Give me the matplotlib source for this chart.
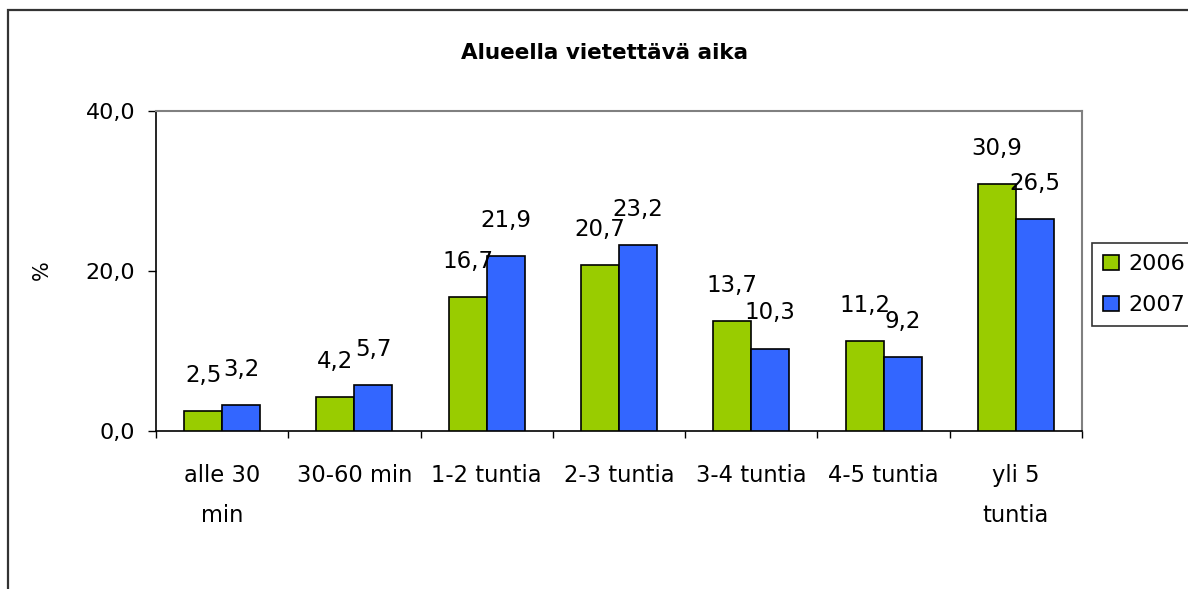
import matplotlib
matplotlib.use("Agg")
import matplotlib.pyplot as plt
from matplotlib.patches import Rectangle
import numpy as np

categories = ["alle 30\nmin", "30-60 min", "1-2 tuntia", "2-3 tuntia", "3-4 tuntia", "4-5 tuntia", "yli 5\ntuntia"]
series_names = ["2006", "2007"]
values_2006 = [2.5, 4.2, 16.7, 20.7, 13.7, 11.2, 30.9]
values_2007 = [3.2, 5.7, 21.9, 23.2, 10.3, 9.2, 26.5]
y_ticks = [0, 20, 40]
title = "Alueella vietettävä aika"
y_label = "%"

colors = ["#99CC00", "#3366FF"]

plt.rcParams['font.family'] = ['DejaVu Sans']

W, H = 1188, 589
fig = plt.figure(figsize=(W / 100, H / 100), dpi=100)
ax = fig.add_axes([156 / W, 1 - 431 / H, 926 / W, 320 / H])

x = np.arange(len(categories))
bw = 0.287
for k, (vals, name) in enumerate(zip([values_2006, values_2007], series_names)):
    offs = (k - 0.5) * bw
    ax.bar(x + offs, vals, width=bw, color=colors[k], edgecolor="black",
           linewidth=1.2, label=name, zorder=3)
    for xi, v in zip(x + offs, vals):
        ax.annotate(f"{v:.1f}".replace(".", ","), (xi, v), xytext=(0, 21),
                    textcoords="offset points", ha="center", va="baseline",
                    fontsize=16.5, zorder=5)

ax.set_xlim(-0.5, len(categories) - 0.5)
ax.set_ylim(0, 40)
ax.set_yticks(y_ticks)
ax.set_yticklabels([f"{t:.1f}".replace(".", ",") for t in y_ticks], fontsize=16)
ax.tick_params(axis="y", direction="out", length=5.8, width=1, pad=9, color="black")

ax.set_xticks(x)
ax.set_xticklabels(categories, fontsize=16.3, linespacing=1.95)
ax.tick_params(axis="x", which="major", length=0, pad=24)
ax.set_xticks(np.arange(-0.5, len(categories)), minor=True)
ax.tick_params(axis="x", which="minor", direction="out", length=5, width=1, color="black")

for s in ["top", "right"]:
    ax.spines[s].set_color("#808080")
    ax.spines[s].set_linewidth(1.5)
for s in ["left", "bottom"]:
    ax.spines[s].set_color("black")
    ax.spines[s].set_linewidth(1.2)

fig.text(605 / W, 1 - 53 / H, title, ha="center", va="center", fontsize=15.5, fontweight="bold")
fig.text(42 / W, 1 - 270 / H, y_label, ha="center", va="center", rotation=90, fontsize=15)

leg = fig.legend(loc="upper left", bbox_to_anchor=(1092 / W, 1 - 243 / H),
                 bbox_transform=fig.transFigure, fontsize=16, frameon=True,
                 fancybox=False, handlelength=0.7, handleheight=0.7,
                 handletextpad=0.45, labelspacing=0.95, borderpad=0.5,
                 borderaxespad=0)
leg.get_frame().set_edgecolor("black")
leg.get_frame().set_linewidth(1.2)

fig.patches.append(Rectangle((8 / W, -0.2), 1.2, 0.2 + (1 - 10 / H), transform=fig.transFigure,
                             fill=False, edgecolor="#333333", linewidth=1.6, clip_on=False))

fig.savefig("out.png", dpi=100)
